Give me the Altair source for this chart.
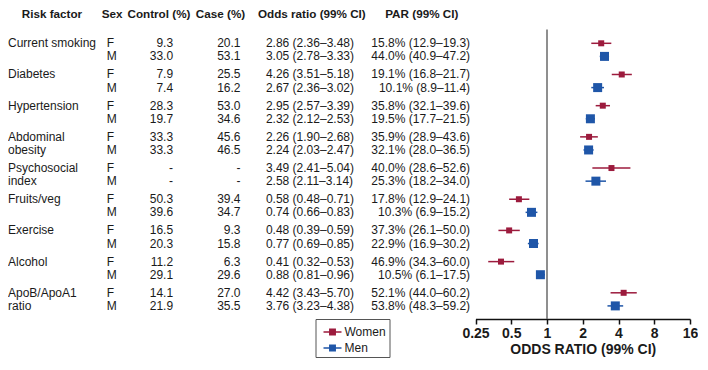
import altair as alt
import pandas as pd

# ---- data ----
label_line1 = ["Current smoking", "Diabetes", "Hypertension", "Abdominal", "Psychosocial",
               "Fruits/veg", "Exercise", "Alcohol", "ApoB/ApoA1"]
label_line2 = ["", "", "", "obesity", "index", "", "", "", "ratio"]

control_f = ["9.3", "7.9", "28.3", "33.3", "-", "50.3", "16.5", "11.2", "14.1"]
control_m = ["33.0", "7.4", "19.7", "33.3", "-", "39.6", "20.3", "29.1", "21.9"]
case_f = ["20.1", "25.5", "53.0", "45.6", "-", "39.4", "9.3", "6.3", "27.0"]
case_m = ["53.1", "16.2", "34.6", "46.5", "-", "34.7", "15.8", "29.6", "35.5"]

or_f = [2.86, 4.26, 2.95, 2.26, 3.49, 0.58, 0.48, 0.41, 4.42]
lo_f = [2.36, 3.51, 2.57, 1.90, 2.41, 0.48, 0.39, 0.32, 3.43]
hi_f = [3.48, 5.18, 3.39, 2.68, 5.04, 0.71, 0.59, 0.53, 5.70]
or_m = [3.05, 2.67, 2.32, 2.24, 2.58, 0.74, 0.77, 0.88, 3.76]
lo_m = [2.78, 2.36, 2.12, 2.03, 2.11, 0.66, 0.69, 0.81, 3.23]
hi_m = [3.33, 3.02, 2.53, 2.47, 3.14, 0.83, 0.85, 0.96, 4.38]

par_f = ["15.8% (12.9–19.3)", "19.1% (16.8–21.7)", "35.8% (32.1–39.6)", "35.9% (28.9–43.6)",
         "40.0% (28.6–52.6)", "17.8% (12.9–24.1)", "37.3% (26.1–50.0)", "46.9% (34.3–60.0)",
         "52.1% (44.0–60.2)"]
par_m = ["44.0% (40.9–47.2)", "10.1% (8.9–11.4)", "19.5% (17.7–21.5)", "32.1% (28.0–36.5)",
         "25.3% (18.2–34.0)", "10.3% (6.9–15.2)", "22.9% (16.9–30.2)", "10.5% (6.1–17.5)",
         "53.8% (48.3–59.2)"]

headers = ["Risk factor", "Sex", "Control (%)", "Case (%)", "Odds ratio (99% CI)", "PAR (99% CI)"]
x_ticks = [0.25, 0.5, 1, 2, 4, 8, 16]
groups = ["Women", "Men"]

rows = []
for i in range(len(label_line1)):
    for sex, grp, lab, ctl, cas, o, l, h, p, off in [
        ("F", "Women", label_line1[i], control_f[i], case_f[i], or_f[i], lo_f[i], hi_f[i], par_f[i], 0.0),
        ("M", "Men", label_line2[i], control_m[i], case_m[i], or_m[i], lo_m[i], hi_m[i], par_m[i], 0.42),
    ]:
        rows.append(dict(pos=i + off, sex=sex, group=grp, label=lab, control=ctl, case=cas,
                         orv=o, lo=l, hi=h, ortext=f"{o:.2f} ({l:.2f}–{h:.2f})", par=p))
df = pd.DataFrame(rows)

FONT = "Liberation Sans"
TXT = "#1a1a1a"
# whole chart must fit in 692 x 354 (page has 8px margins)
SX = 0.977
W, H = 684, 311

yscale = alt.Scale(domain=[0, 8.42], range=[35.3, 297.9])
yenc = alt.Y("pos:Q", scale=yscale, axis=None)
xscale = alt.Scale(type="log", base=2, domain=[0.25, 16], range=[467.5, 682.0])
cscale = alt.Scale(domain=groups, range=["#9c1b3d", "#1f56a8"])

base = alt.Chart(df)

def col(field, xpx, align):
    return base.mark_text(align=align, baseline="middle", fontSize=12, font=FONT, color=TXT).encode(
        x=alt.value(xpx), y=yenc, text=f"{field}:N")

layers = [
    col("label", 0, "left"),
    col("sex", 101 * SX, "left"),
    col("control", 169 * SX, "right"),
    col("case", 238 * SX, "right"),
    col("ortext", 264 * SX, "left"),
    col("par", 473 * SX, "right"),
]

header_x = [45, 106.5, 154.5, 217.5, 311, 423.5]
for htxt, hx in zip(headers, header_x):
    layers.append(
        alt.Chart(pd.DataFrame({"t": [htxt]})).mark_text(
            align="center", baseline="middle", fontSize=11.7, fontWeight="bold", font=FONT, color=TXT
        ).encode(x=alt.value(hx * SX), y=alt.value(5.5), text="t:N")
    )

# reference line at OR = 1
layers.append(
    alt.Chart(pd.DataFrame({"v": [1]})).mark_rule(color="#6a6a6a", strokeWidth=1.5).encode(
        x=alt.X("v:Q", scale=xscale), y=alt.value(21.4), y2=alt.value(H))
)

axis = alt.Axis(values=x_ticks, labelExpr="'' + datum.value", grid=False, labelFlush=False,
                domainColor="#111", domainWidth=1.5, tickColor="#111", tickWidth=1.5, tickSize=5,
                labelFont=FONT, labelFontSize=14, labelFontWeight="bold", labelColor=TXT,
                labelPadding=2, labelOverlap=False,
                title="ODDS RATIO (99% CI)", titleFont=FONT, titleFontSize=14,
                titleFontWeight="bold", titleColor=TXT, titlePadding=2)

legend = alt.Legend(orient="none", legendX=307.5, legendY=311, title=None)

layers.append(
    base.mark_rule(strokeWidth=1.5).encode(
        x=alt.X("lo:Q", scale=xscale, axis=axis), x2="hi:Q", y=yenc,
        color=alt.Color("group:N", scale=cscale, legend=legend))
)

for grp, sz in zip(groups, [36, 81]):
    layers.append(
        base.transform_filter(alt.datum.group == grp).mark_square(filled=True, opacity=1, size=sz).encode(
            x=alt.X("orv:Q", scale=xscale),
            y=yenc,
            fill=alt.Fill("group:N", scale=cscale, legend=legend),
        )
    )

chart = (
    alt.layer(*layers)
    .properties(width=W, height=H, padding=0)
    .configure_view(stroke=None)
    .configure_legend(
        strokeColor="#555", fillColor="white", padding=3,
        symbolType="M-1,0H1M-0.3,-0.3H0.3V0.3H-0.3Z", symbolSize=324,
        symbolStrokeWidth=1.5, symbolOffset=4, labelOffset=2, rowPadding=0,
        labelFont=FONT, labelFontSize=12, labelColor=TXT,
    )
)

chart.save("out.html", embed_options={"renderer": "svg", "actions": False})
